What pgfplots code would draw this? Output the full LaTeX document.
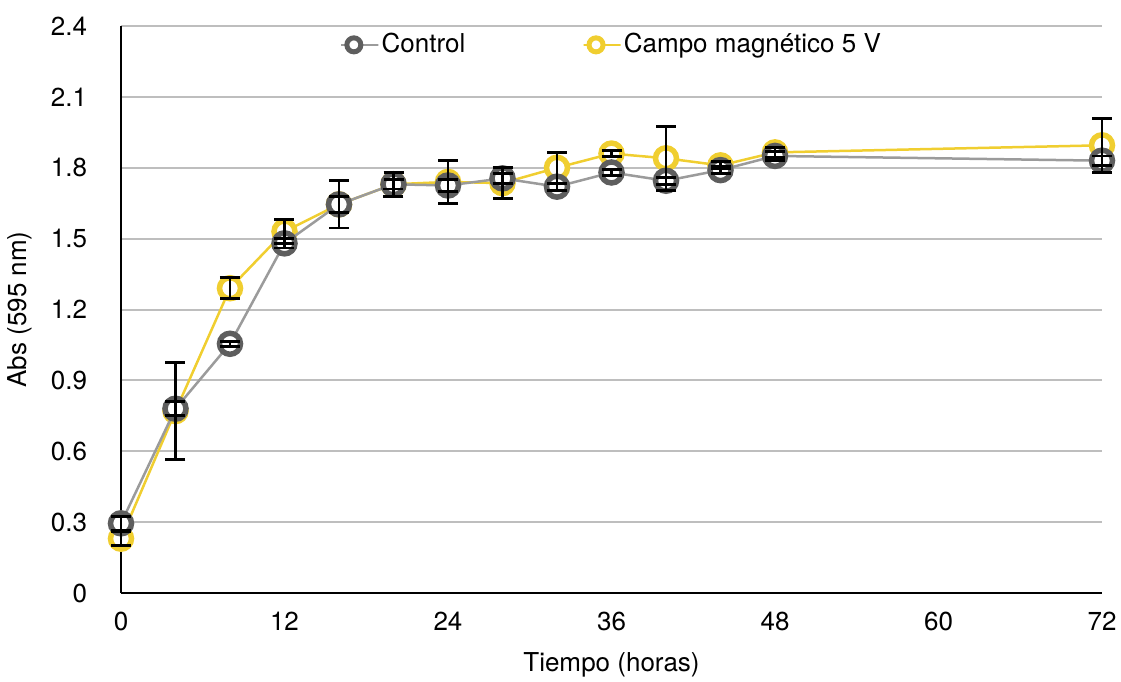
\documentclass[border=0pt]{standalone}
\usepackage{fontspec}
\setmainfont{TeX Gyre Heros}
\usepackage{pgfplots}
\usepackage{pgfplotstable}
\pgfplotsset{compat=1.18}
\definecolor{ctrlmark}{RGB}{94,94,94}
\definecolor{ctrlline}{RGB}{155,155,155}
\definecolor{yel}{RGB}{240,206,48}
\definecolor{gridc}{RGB}{190,190,190}

\pgfplotstableread{
t m e
0 0.295 0.03
4 0.78 0.03
8 1.055 0.01
12 1.48 0.02
16 1.645 0.10
20 1.73 0.02
24 1.725 0.025
28 1.755 0.02
32 1.72 0.015
36 1.78 0.012
40 1.745 0.015
44 1.79 0.015
48 1.85 0.02
72 1.83 0.02
}\ctrldata

\pgfplotstableread{
t m e
0 0.23 0.03
4 0.77 0.205
8 1.29 0.045
12 1.53 0.05
16 1.645 0.035
20 1.73 0.05
24 1.74 0.09
28 1.735 0.065
32 1.80 0.065
36 1.86 0.013
40 1.84 0.135
44 1.81 0.015
48 1.865 0.02
72 1.895 0.115
}\yeldata

\begin{document}
\fontsize{26}{31}\selectfont
\begin{tikzpicture}
\path[use as bounding box] (-121pt,-88pt) rectangle (1000pt,593pt);
\begin{axis}[
  scale only axis, width=981pt, height=567pt,
  at={(0pt,0pt)}, anchor=south west,
  xmin=0, xmax=72, ymin=0, ymax=2.4,
  clip=false, clip marker paths=true,
  axis x line*=bottom, axis y line*=left,
  axis line style={black, line width=2.5pt, -},
  xtick={0,12,24,36,48,60,72},
  ytick={0,0.3,0.6,0.9,1.2,1.5,1.8,2.1,2.4},
  yticklabels={0,0.3,0.6,0.9,1.2,1.5,1.8,2.1,2.4},
  major tick length=0pt,
  /pgf/number format/assume math mode=true,
  tick label style={font=\fontsize{26}{31}\selectfont},
  xticklabel style={yshift=-10.5pt},
  yticklabel style={xshift=-25pt},
  ymajorgrids, major grid style={gridc, line width=2pt},
  xlabel={Tiempo (horas)}, ylabel={Abs (595 nm)},
  label style={font=\fontsize{26}{31}\selectfont},
  xlabel style={at={(axis description cs:0.5,-0.127)}, anchor=center},
  ylabel style={at={(axis description cs:-0.103,0.5)}, anchor=center},
  legend columns=2,
  legend style={at={(0.5,1)}, anchor=north, yshift=-3pt, draw=none, fill=none,
    font=\fontsize{26}{31}\selectfont,
    /tikz/every even column/.append style={column sep=115pt}},
  legend cell align=left,
  legend image code/.code={\path (0pt,0pt) rectangle (37pt,0pt);
    \draw[mark repeat=2,mark phase=2,#1] plot coordinates {(0pt,0pt) (12.5pt,0pt) (25pt,0pt)};},
]
\addlegendimage{ctrlline, line width=2.5pt, mark=*, mark size=7pt, mark options={draw=ctrlmark, fill=white, line width=5pt}}
\addlegendentry{Control}
\addlegendimage{yel, line width=2.5pt, mark=*, mark size=7pt, mark options={draw=yel, fill=white, line width=5pt}}
\addlegendentry{Campo magnético 5 V}

\addplot[forget plot, yel, line width=2.5pt, mark=*, mark size=10.5pt,
  mark options={draw=yel, fill=white, line width=5.5pt}] table[x=t, y=m] {\yeldata};
\addplot[forget plot, ctrlline, line width=2.5pt, mark=*, mark size=10.5pt,
  mark options={draw=ctrlmark, fill=white, line width=5.5pt}] table[x=t, y=m] {\ctrldata};

\addplot[forget plot, draw=none, mark=none,
  error bars/.cd, y dir=both, y explicit,
  error bar style={draw=black, line width=2.8pt},
  error mark options={draw=black, rotate=90, line width=2.8pt, mark size=10pt}]
  table[x=t, y=m, y error=e] {\yeldata};
\addplot[forget plot, draw=none, mark=none,
  error bars/.cd, y dir=both, y explicit,
  error bar style={draw=black, line width=2.8pt},
  error mark options={draw=black, rotate=90, line width=2.8pt, mark size=10pt}]
  table[x=t, y=m, y error=e] {\ctrldata};
\end{axis}
\end{tikzpicture}
\end{document}
